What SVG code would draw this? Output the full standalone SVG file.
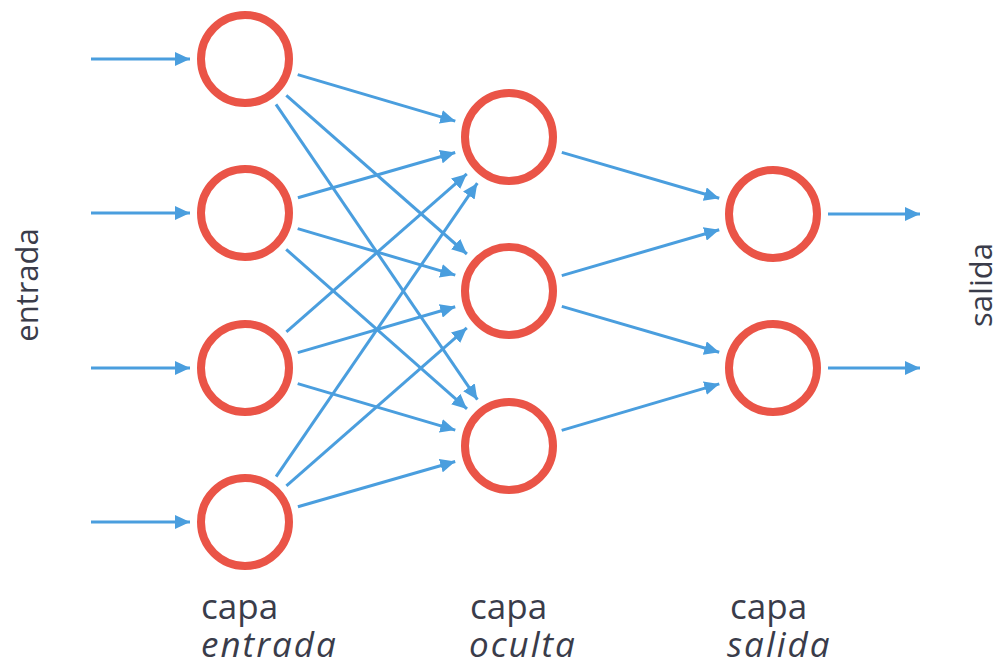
<svg xmlns="http://www.w3.org/2000/svg" width="1000" height="666" viewBox="0 0 1000 666">
<style>
.n{fill:#fff;stroke:#ea5447;stroke-width:8}
.c line{stroke:#4a9ede;stroke-width:3;marker-end:url(#ah)}
.t{font-family:"Open Sans","Liberation Sans",sans-serif;font-size:35px;fill:#3a3c4a}
.v{font-size:31px}
.i{font-style:italic;letter-spacing:2px}
</style>
<defs>
<marker id="ah" markerUnits="userSpaceOnUse" markerWidth="16" markerHeight="14" refX="15" refY="7" orient="auto">
<path d="M0,0 L15,7 L0,14 z" fill="#4a9ede"/>
</marker>
</defs>
<rect width="1000" height="666" fill="#fff"/>
<g id="connectors" class="c">
<line x1="91" y1="59" x2="190" y2="59"/>
<line x1="91" y1="213" x2="190" y2="213"/>
<line x1="91" y1="368" x2="190" y2="368"/>
<line x1="91" y1="522" x2="190" y2="522"/>
<line x1="297.7" y1="74.6" x2="455.3" y2="121.1"/>
<line x1="286.3" y1="95.3" x2="466.9" y2="254"/>
<line x1="276" y1="104.4" x2="477.4" y2="399.7"/>
<line x1="297.9" y1="197.8" x2="455.2" y2="152.5"/>
<line x1="297.7" y1="228.6" x2="455.3" y2="275.1"/>
<line x1="286.2" y1="249.4" x2="467" y2="408.9"/>
<line x1="286.4" y1="331.8" x2="466.8" y2="173.9"/>
<line x1="297.8" y1="352.6" x2="455.2" y2="306.7"/>
<line x1="297.7" y1="383.6" x2="455.3" y2="430.1"/>
<line x1="276.1" y1="476.6" x2="477.3" y2="183.2"/>
<line x1="286.4" y1="485.8" x2="466.8" y2="327.9"/>
<line x1="297.9" y1="506.8" x2="455.2" y2="461.5"/>
<line x1="561.8" y1="152.4" x2="719.2" y2="198.3"/>
<line x1="561.8" y1="275.6" x2="719.2" y2="229.7"/>
<line x1="561.8" y1="306.4" x2="719.2" y2="352.3"/>
<line x1="561.7" y1="430.4" x2="719.3" y2="383.9"/>
<line x1="828" y1="214" x2="920" y2="214"/>
<line x1="828" y1="368" x2="920" y2="368"/>
</g>
<g id="in1"><circle class="n" cx="245" cy="59" r="44"/></g>
<g id="in2"><circle class="n" cx="245" cy="213" r="44"/></g>
<g id="in3"><circle class="n" cx="245" cy="368" r="44"/></g>
<g id="in4"><circle class="n" cx="245" cy="522" r="44"/></g>
<g id="h1"><circle class="n" cx="509" cy="137" r="44"/></g>
<g id="h2"><circle class="n" cx="509" cy="291" r="44"/></g>
<g id="h3"><circle class="n" cx="509" cy="446" r="44"/></g>
<g id="o1"><circle class="n" cx="773" cy="214" r="44"/></g>
<g id="o2"><circle class="n" cx="773" cy="368" r="44"/></g>
<g id="labels">
<text class="t v" transform="translate(38,285) rotate(-90)" text-anchor="middle">entrada</text>
<text class="t v" transform="translate(992,285) rotate(-90)" text-anchor="middle">salida</text>
<text class="t" x="201" y="619">capa</text>
<text class="t i" x="201" y="657">entrada</text>
<text class="t" x="470" y="619">capa</text>
<text class="t i" x="469" y="657">oculta</text>
<text class="t" x="730" y="619">capa</text>
<text class="t i" x="727" y="657">salida</text>
</g>
</svg>
